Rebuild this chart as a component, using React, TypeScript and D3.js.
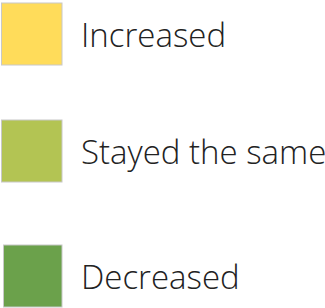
import React from "react";
import * as d3 from "d3";

const categories = ["Increased", "Stayed the same", "Decreased"];
const colors = ["#FFDC5A", "#B3C453", "#6BA14B"];
const boxTops = [3, 120, 245];
const boxLefts = [1.5, 1.5, 3.5];

export default function App() {
  const W = 325, H = 308;
  const color = d3.scaleOrdinal<string, string>().domain(categories).range(colors);
  return (
    <svg width={W} height={H} style={{ position: "absolute", left: 0, top: 0 }}>
      {categories.map((c, i) => (
        <g key={c}>
          <rect x={boxLefts[i]} y={boxTops[i]} width={62 - boxLefts[i]} height={62}
            fill={color(c)} stroke="#c8c8c8" strokeWidth={1} />
          <text x={81} y={boxTops[i] + 44} fontFamily="'Open Sans'" fontWeight={300}
            fontSize={33} fill="#222">{c}</text>
        </g>
      ))}
    </svg>
  );
}
